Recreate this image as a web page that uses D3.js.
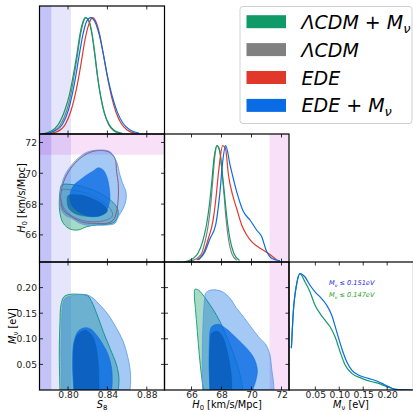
<!DOCTYPE html>
<html><head><meta charset="utf-8">
<script src="https://cdn.jsdelivr.net/npm/d3@7/dist/d3.min.js"></script>
<style>
body{margin:0;background:#fff}
svg{display:block}
text{font-family:"DejaVu Sans",sans-serif}
</style>
</head><body>
<svg id="c" width="413" height="412"></svg>
<script>
// ---------------- data ----------------
const seriesNames = ["ΛCDM + M", "ΛCDM", "EDE", "EDE + M"];
const seriesSub = ["ν", "", "", "ν"];
const seriesColors = ["#109a68", "#808080", "#e1382a", "#0a6ce4"];

const s8Domain = [0.771, 0.898];
const h0Domain = [64.2, 72.5];
const h0YDomain = [64.24, 72.55];
const mnuDomain = [-0.005, 0.255];
const mnuYDomain = [0, 0.25];
const densDomain = [0, 1.1];

const s8Ticks = [0.80, 0.84, 0.88];
const h0Ticks = [66, 68, 70, 72];
const mnuTicks = [0.05, 0.10, 0.15, 0.20];

const s8BandDark = [0.70, 0.783];
const s8BandLight = [0.70, 0.803];
const h0Band = [71.2, 75];

// 1D marginals: [value, normalized density]
const s8Green = [[0.773,0],[0.783,0.025],[0.790,0.08],[0.797,0.21],[0.8015,0.34],[0.805,0.49],[0.8087,0.67],[0.8122,0.86],[0.815,0.96],[0.8176,1.0],[0.8205,0.98],[0.824,0.87],[0.827,0.69],[0.830,0.49],[0.8335,0.31],[0.837,0.18],[0.8415,0.085],[0.847,0.03],[0.855,0.006]];
const s8Gray = [[0.775,0],[0.785,0.024],[0.7918,0.073],[0.7986,0.20],[0.8026,0.33],[0.806,0.49],[0.8094,0.67],[0.8128,0.86],[0.8155,0.96],[0.8182,1.0],[0.8209,0.98],[0.8243,0.87],[0.8273,0.69],[0.8301,0.49],[0.8331,0.32],[0.8365,0.19],[0.8409,0.087],[0.846,0.03],[0.8527,0.007]];
const s8Red = [[0.778,0],[0.789,0.02],[0.797,0.08],[0.803,0.2],[0.8065,0.31],[0.810,0.45],[0.8135,0.62],[0.817,0.8],[0.821,0.94],[0.825,1.0],[0.828,0.97],[0.832,0.86],[0.836,0.68],[0.840,0.49],[0.8445,0.31],[0.849,0.18],[0.854,0.09],[0.860,0.035],[0.868,0.008]];
const s8Blue = [[0.775,0],[0.786,0.025],[0.794,0.08],[0.8005,0.21],[0.804,0.33],[0.8075,0.48],[0.811,0.66],[0.815,0.85],[0.819,0.97],[0.823,1.0],[0.827,0.97],[0.8315,0.86],[0.836,0.68],[0.840,0.50],[0.845,0.32],[0.850,0.19],[0.856,0.09],[0.863,0.035],[0.872,0.008]];

const h0Green = [[65.5,0],[66.1,0.03],[66.45,0.08],[66.75,0.18],[67.0,0.32],[67.2,0.5],[67.36,0.7],[67.5,0.89],[67.69,1.0],[67.88,0.95],[68.04,0.78],[68.2,0.58],[68.36,0.38],[68.56,0.2],[68.82,0.075],[69.2,0.012]];
const h0Gray = [[65.68,0],[66.34,0.03],[66.68,0.075],[66.90,0.175],[67.12,0.32],[67.28,0.49],[67.41,0.69],[67.54,0.89],[67.72,1.0],[67.90,0.95],[68.03,0.78],[68.17,0.58],[68.30,0.375],[68.46,0.20],[68.68,0.075],[69.01,0.015]];
const h0Red = [[66.34,0.017],[66.79,0.075],[67.12,0.2],[67.46,0.375],[67.63,0.55],[67.81,0.78],[68.08,1.0],[68.26,0.98],[68.46,0.75],[68.74,0.576],[69.01,0.46],[69.34,0.32],[69.68,0.232],[70.01,0.175],[70.57,0.118],[71.12,0.075],[71.68,0.017]];
const h0Blue = [[66.46,0.017],[66.90,0.089],[67.23,0.2],[67.61,0.318],[67.90,0.605],[68.08,0.863],[68.28,1.0],[68.57,0.834],[69.01,0.605],[69.46,0.433],[69.90,0.361],[70.34,0.275],[70.68,0.218],[70.97,0.103],[71.34,0.032],[71.90,0.009]];

const mnuBlue = [[0,0.36],[0.004,0.67],[0.011,0.91],[0.018,1.0],[0.0285,0.971],[0.0389,0.9],[0.0494,0.843],[0.0599,0.80],[0.0738,0.728],[0.0843,0.643],[0.0947,0.50],[0.1052,0.357],[0.1156,0.243],[0.1261,0.171],[0.140,0.129],[0.161,0.10],[0.1784,0.077],[0.1889,0.057],[0.2028,0.029],[0.2168,0.006],[0.2516,0]];
const mnuGreen = [[0,0.36],[0.004,0.67],[0.011,0.91],[0.018,1.0],[0.0285,0.928],[0.0389,0.843],[0.0494,0.728],[0.0599,0.657],[0.0703,0.60],[0.0808,0.543],[0.0912,0.457],[0.1017,0.328],[0.1122,0.214],[0.1261,0.143],[0.147,0.10],[0.168,0.071],[0.1819,0.057],[0.1958,0.034],[0.2168,0.006],[0.2516,0]];
const mnuBounds = ["0.151", "0.147"];

// 2D contours: S8 vs H0
const s8h0BlueOuter = [[0.8324,71.51],[0.8426,71.40],[0.8493,70.75],[0.8527,69.89],[0.8561,69.24],[0.8588,68.81],[0.8588,68.26],[0.8561,67.72],[0.8510,67.18],[0.8476,66.75],[0.8392,66.64],[0.8290,66.64],[0.8189,66.64],[0.8121,66.75],[0.8037,67.07],[0.7969,67.29],[0.7925,67.72],[0.7918,68.48],[0.7935,69.24],[0.7969,69.89],[0.8037,70.54],[0.8121,71.08],[0.8206,71.40]];
const s8h0BlueInner = [[0.8307,70.36],[0.8358,70.21],[0.8399,69.67],[0.8419,69.02],[0.8426,68.37],[0.8409,67.83],[0.8375,67.40],[0.8324,67.25],[0.8240,67.18],[0.8172,67.29],[0.8104,67.51],[0.8047,67.83],[0.8020,68.26],[0.8026,68.81],[0.8060,69.24],[0.8121,69.56],[0.8189,69.89],[0.8256,70.15]];
const s8h0GreenOuter = [[0.7935,69.24],[0.8020,69.28],[0.8155,69.13],[0.8290,68.81],[0.8409,68.37],[0.8493,67.83],[0.8510,67.40],[0.8476,66.86],[0.8392,66.68],[0.8290,66.64],[0.8189,66.53],[0.8104,66.32],[0.8020,66.38],[0.7952,66.75],[0.7918,67.40],[0.7911,68.16],[0.7918,68.81]];
const s8h0GreenInner = [[0.800,68.55],[0.812,68.6],[0.825,68.35],[0.836,67.95],[0.840,67.55],[0.833,67.25],[0.820,67.2],[0.808,67.35],[0.801,67.7],[0.799,68.2]];
const s8h0Red = [[0.8273,71.45],[0.8409,71.40],[0.8476,70.97],[0.8493,70.10],[0.8510,69.35],[0.8510,68.37],[0.8493,67.51],[0.8460,66.97],[0.8392,66.75],[0.8290,66.75],[0.8155,66.81],[0.8037,67.18],[0.7952,67.62],[0.7925,68.26],[0.7935,69.02],[0.7986,69.89],[0.8070,70.65],[0.8172,71.19]];
const s8h0Gray = [[0.7935,68.91],[0.8053,68.89],[0.8189,68.70],[0.8324,68.26],[0.8426,67.72],[0.8453,67.25],[0.8392,66.97],[0.8290,66.86],[0.8172,66.90],[0.8053,67.18],[0.7969,67.62],[0.7928,68.26]];

// 2D contours: S8 vs Mnu (truncated at Mnu = 0)
const s8mnuBlueOuter = [[0.7935,0],[0.7928,0.0684],[0.7935,0.1335],[0.7945,0.166],[0.7969,0.179],[0.8037,0.184],[0.8121,0.1868],[0.8199,0.1855],[0.8256,0.179],[0.8324,0.166],[0.8409,0.147],[0.8493,0.1204],[0.8561,0.0944],[0.8602,0.0684],[0.8629,0.0423],[0.8636,0.0163],[0.8629,0]];
const s8mnuBlueInner = [[0.8060,0],[0.8047,0.0358],[0.8047,0.0684],[0.8060,0.0944],[0.8104,0.1152],[0.8172,0.1217],[0.8230,0.119],[0.8290,0.1074],[0.8358,0.0879],[0.8409,0.0684],[0.8443,0.0423],[0.8449,0.0163],[0.8443,0]];
const s8mnuGreenOuter = [[0.7918,0],[0.7911,0.0684],[0.7918,0.1335],[0.7928,0.166],[0.7959,0.1823],[0.8020,0.1868],[0.8121,0.1868],[0.8199,0.184],[0.8240,0.1725],[0.8290,0.1497],[0.8358,0.1139],[0.8426,0.0814],[0.8493,0.0488],[0.8517,0.0228],[0.8510,0]];
const s8mnuGreenInner = [[0.8060,0],[0.8053,0.0488],[0.8060,0.0879],[0.8094,0.1074],[0.8172,0.1172],[0.8230,0.11],[0.8273,0.0944],[0.8307,0.0553],[0.8317,0]];

// 2D contours: H0 vs Mnu (truncated at Mnu = 0)
const h0mnuGreenOuter = [[66.79,0],[66.66,0.0293],[66.52,0.0684],[66.39,0.1139],[66.26,0.1595],[66.19,0.1855],[66.23,0.1966],[66.46,0.1953],[66.68,0.1888],[67.01,0.1758],[67.46,0.1563],[67.90,0.1335],[68.34,0.1042],[68.79,0.0716],[69.12,0.0423],[69.34,0.0163],[69.41,0]];
const h0mnuGreenInner = [[67.23,0],[67.19,0.0488],[67.23,0.0879],[67.34,0.1107],[67.72,0.1152],[68.08,0.1042],[68.34,0.0814],[68.57,0.0488],[68.68,0.0228],[68.70,0]];
const h0mnuBlueOuter = [[66.74,0],[66.72,0.0488],[66.74,0.1009],[66.81,0.153],[66.88,0.179],[66.94,0.1888],[67.23,0.1947],[67.68,0.1953],[68.12,0.1908],[68.57,0.179],[69.01,0.1595],[69.46,0.1432],[69.90,0.1256],[70.46,0.1042],[70.97,0.0879],[71.23,0.0684],[71.34,0.0423],[71.46,0.0163],[71.50,0]];
const h0mnuBlueInner = [[67.23,0],[67.17,0.0488],[67.19,0.0944],[67.23,0.1139],[67.34,0.1237],[67.79,0.1283],[68.34,0.1191],[69.01,0.1009],[69.68,0.0814],[70.17,0.0619],[70.39,0.0391],[70.30,0.0195],[70.08,0]];

// ---------------- layout ----------------
const colX = [39.5, 164.5, 289, 413.5];
const rowY = [6, 134, 262, 390];
const svg = d3.select("#c");
const defs = svg.append("defs");

const xS8 = d3.scaleLinear().domain(s8Domain).range([colX[0], colX[1]]);
const xH0 = d3.scaleLinear().domain(h0Domain).range([colX[1], colX[2]]);
const xM = d3.scaleLinear().domain(mnuDomain).range([colX[2], colX[3]]);
const yH0 = d3.scaleLinear().domain(h0YDomain).range([rowY[2], rowY[1]]);
const yM = d3.scaleLinear().domain(mnuYDomain).range([rowY[3], rowY[2]]);
const yD = [0,1,2].map(r => d3.scaleLinear().domain(densDomain).range([rowY[r+1], rowY[r]]));

const [cGreen, cGray, cRed, cBlue] = seriesColors;
const blueEdge = "#5a98ea";
const overlapShade = "#003b8f";

function makePanel(id, c, r) {
  const x0 = colX[c], x1 = colX[c+1], y0 = rowY[r], y1 = rowY[r+1];
  defs.append("clipPath").attr("id", "clip" + id).append("rect")
    .attr("x", x0).attr("y", y0).attr("width", x1 - x0).attr("height", y1 - y0);
  const g = svg.append("g").attr("clip-path", `url(#clip${id})`);
  return {g, x0, x1, y0, y1};
}

function vband(p, xs, band, color, op) {
  p.g.append("rect").attr("x", xs(band[0])).attr("y", p.y0)
    .attr("width", xs(band[1]) - xs(band[0])).attr("height", p.y1 - p.y0)
    .attr("fill", color).attr("fill-opacity", op);
}
function hband(p, ys, band, color, op) {
  p.g.append("rect").attr("x", p.x0).attr("y", ys(band[1]))
    .attr("width", p.x1 - p.x0).attr("height", ys(band[0]) - ys(band[1]))
    .attr("fill", color).attr("fill-opacity", op);
}
const lavender = "#0000e6", pink = "#c800c8";
function s8Bands(p) {
  vband(p, xS8, s8BandLight, lavender, 0.1);
  vband(p, xS8, s8BandDark, lavender, 0.15);
}

function line1D(p, xs, ys, data, color) {
  const ln = d3.line().x(d => xs(d[0])).y(d => ys(d[1])).curve(d3.curveMonotoneX);
  p.g.append("path").attr("d", ln(data)).attr("fill", "none")
    .attr("stroke", color).attr("stroke-width", 1.2);
}
function contour(p, xs, ys, data, closed, fill, fop, stroke, sw) {
  const curve = closed ? d3.curveCatmullRomClosed.alpha(0.5) : d3.curveCatmullRom.alpha(0.5);
  const ln = d3.line().x(d => xs(d[0])).y(d => ys(d[1])).curve(curve);
  p.g.append("path").attr("d", ln(data) + (closed ? "" : "Z"))
    .attr("fill", fill || "none").attr("fill-opacity", fop || 0)
    .attr("stroke", stroke || "none").attr("stroke-width", sw || 0);
}
function filledPair(p, xs, ys, closed, gOut, gIn, bOut, bIn, lines) {
  contour(p, xs, ys, gOut, closed, cGreen, 0.37, cGreen, 0.9);
  contour(p, xs, ys, gIn, closed, cGreen, 0.5, cGreen, 0.5);
  if (lines) lines();
  contour(p, xs, ys, bOut, closed, cBlue, 0.37, blueEdge, 0.8);
  contour(p, xs, ys, bIn, closed, cBlue, 0.8, cBlue, 0.5);
  contour(p, xs, ys, gIn, closed, overlapShade, 0.35, null, 0);
}

// ---- panel (1,1): S8 1D
const p11 = makePanel("11", 0, 0);
s8Bands(p11);
line1D(p11, xS8, yD[0], s8Gray, cGray);
line1D(p11, xS8, yD[0], s8Green, cGreen);
line1D(p11, xS8, yD[0], s8Red, cRed);
line1D(p11, xS8, yD[0], s8Blue, cBlue);

// ---- panel (2,1): S8 vs H0
const p21 = makePanel("21", 0, 1);
s8Bands(p21);
hband(p21, yH0, h0Band, pink, 0.12);
filledPair(p21, xS8, yH0, true, s8h0GreenOuter, s8h0GreenInner, s8h0BlueOuter, s8h0BlueInner, () => {
  contour(p21, xS8, yH0, s8h0Gray, true, null, 0, cGray, 0.9);
  contour(p21, xS8, yH0, s8h0Red, true, null, 0, cRed, 0.9);
});

// ---- panel (2,2): H0 1D
const p22 = makePanel("22", 1, 1);
vband(p22, xH0, h0Band, pink, 0.12);
line1D(p22, xH0, yD[1], h0Gray, cGray);
line1D(p22, xH0, yD[1], h0Green, cGreen);
line1D(p22, xH0, yD[1], h0Red, cRed);
line1D(p22, xH0, yD[1], h0Blue, cBlue);

// ---- panel (3,1): S8 vs Mnu
const p31 = makePanel("31", 0, 2);
s8Bands(p31);
filledPair(p31, xS8, yM, false, s8mnuGreenOuter, s8mnuGreenInner, s8mnuBlueOuter, s8mnuBlueInner, null);

// ---- panel (3,2): H0 vs Mnu
const p32 = makePanel("32", 1, 2);
vband(p32, xH0, h0Band, pink, 0.12);
filledPair(p32, xH0, yM, false, h0mnuGreenOuter, h0mnuGreenInner, h0mnuBlueOuter, h0mnuBlueInner, null);

// ---- panel (3,3): Mnu 1D
const p33 = makePanel("33", 2, 2);
line1D(p33, xM, yD[2], mnuGreen, cGreen);
line1D(p33, xM, yD[2], mnuBlue, cBlue);
const annColors = ["#1c1ce8", "#24a024"];
mnuBounds.forEach((b, i) => {
  const t = p33.g.append("text").attr("x", 329).attr("y", 285 + i * 12)
    .attr("font-size", 6.6).attr("font-style", "italic").attr("fill", annColors[i]);
  t.append("tspan").text("M");
  t.append("tspan").attr("font-size", 4.6).attr("dy", 1.5).text("ν");
  t.append("tspan").attr("dy", -1.5).text(" ≤ " + b + "eV");
});

// ---------------- axes: ticks ----------------
const axG = svg.append("g");
const TL = 3.5;
function xTicks(scale, ticks, y, dir) {
  ticks.forEach(t => axG.append("line").attr("x1", scale(t)).attr("x2", scale(t))
    .attr("y1", y).attr("y2", y + dir * TL).attr("stroke", "#000").attr("stroke-width", 0.8));
}
function yTicks(scale, ticks, x, dir) {
  ticks.forEach(t => axG.append("line").attr("y1", scale(t)).attr("y2", scale(t))
    .attr("x1", x).attr("x2", x + dir * TL).attr("stroke", "#000").attr("stroke-width", 0.8));
}
[0,1,2].forEach(r => { xTicks(xS8, s8Ticks, rowY[r+1], -1); xTicks(xS8, s8Ticks, rowY[r], 1); });
[1,2].forEach(r => { xTicks(xH0, h0Ticks, rowY[r+1], -1); xTicks(xH0, h0Ticks, rowY[r], 1); });
xTicks(xM, mnuTicks, rowY[3], -1); xTicks(xM, mnuTicks, rowY[2], 1);
yTicks(yH0, h0Ticks, colX[0], 1); yTicks(yH0, h0Ticks, colX[1], -1);
[0,1].forEach(c => { yTicks(yM, mnuTicks, colX[c], 1); yTicks(yM, mnuTicks, colX[c+1], -1); });

// tick labels via d3 axes
const tickFont = 9.2;
function styleAxis(sel) {
  sel.select(".domain").remove();
  sel.selectAll(".tick line").remove();
  sel.selectAll("text").attr("font-size", tickFont).attr("fill", "#222")
    .attr("font-family", "DejaVu Sans, sans-serif");
}
svg.append("g").attr("transform", `translate(0,${rowY[3]})`)
  .call(d3.axisBottom(xS8).tickValues(s8Ticks).tickFormat(d3.format(".2f")).tickSize(0).tickPadding(1.5))
  .call(styleAxis);
svg.append("g").attr("transform", `translate(0,${rowY[3]})`)
  .call(d3.axisBottom(xH0).tickValues(h0Ticks).tickFormat(d3.format("d")).tickSize(0).tickPadding(1.5))
  .call(styleAxis);
svg.append("g").attr("transform", `translate(0,${rowY[3]})`)
  .call(d3.axisBottom(xM).tickValues(mnuTicks).tickFormat(d3.format(".2f")).tickSize(0).tickPadding(1.5))
  .call(styleAxis);
svg.append("g").attr("transform", `translate(${colX[0]},0)`)
  .call(d3.axisLeft(yH0).tickValues(h0Ticks).tickFormat(d3.format("d")).tickSize(0).tickPadding(2.5))
  .call(styleAxis);
svg.append("g").attr("transform", `translate(${colX[0]},0)`)
  .call(d3.axisLeft(yM).tickValues(mnuTicks).tickFormat(d3.format(".2f")).tickSize(0).tickPadding(2.5))
  .call(styleAxis);

// panel borders
[[0,0],[0,1],[1,1],[0,2],[1,2],[2,2]].forEach(([c, r]) => {
  svg.append("rect").attr("x", colX[c]).attr("y", rowY[r])
    .attr("width", colX[c+1] - colX[c]).attr("height", rowY[r+1] - rowY[r])
    .attr("fill", "none").attr("stroke", "#000").attr("stroke-width", 1.2);
});

// axis labels
const labFont = 9.8;
function mathLabel(g, main, sub, rest) {
  g.append("tspan").attr("font-style", "italic").text(main);
  g.append("tspan").attr("font-size", labFont * 0.7).attr("dy", 2).text(sub);
  if (rest) g.append("tspan").attr("dy", -2).text(rest);
}
let t;
t = svg.append("text").attr("x", 102).attr("y", 407.8).attr("text-anchor", "middle").attr("font-size", labFont);
mathLabel(t, "S", "8", null);
t = svg.append("text").attr("x", 227).attr("y", 407.8).attr("text-anchor", "middle").attr("font-size", labFont);
mathLabel(t, "H", "0", " [km/s/Mpc]");
t = svg.append("text").attr("x", 351).attr("y", 407.8).attr("text-anchor", "middle").attr("font-size", labFont);
mathLabel(t, "M", "ν", " [eV]");
t = svg.append("text").attr("transform", "translate(24.5,198) rotate(-90)").attr("text-anchor", "middle").attr("font-size", labFont);
mathLabel(t, "H", "0", " [km/s/Mpc]");
t = svg.append("text").attr("transform", "translate(15.5,326) rotate(-90)").attr("text-anchor", "middle").attr("font-size", labFont);
mathLabel(t, "M", "ν", " [eV]");

// ---------------- legend ----------------
const lg = svg.append("g");
lg.append("rect").attr("x", 240).attr("y", 6.5).attr("width", 172).attr("height", 117).attr("rx", 3)
  .attr("fill", "#fff").attr("fill-opacity", 0.85).attr("stroke", "#d0d0d0").attr("stroke-width", 1);
seriesNames.forEach((name, i) => {
  const cy = 21.7 + i * 27.9;
  lg.append("rect").attr("x", 246.5).attr("y", cy - 6.5).attr("width", 39.5).attr("height", 13)
    .attr("fill", seriesColors[i]);
  const tx = lg.append("text").attr("x", 301.5).attr("y", cy + 7)
    .attr("font-size", 19).attr("font-style", "italic").attr("fill", "#000");
  tx.append("tspan").text(name);
  if (seriesSub[i]) tx.append("tspan").attr("font-size", 13).attr("dy", 4).text(seriesSub[i]);
});
</script>
</body></html>
